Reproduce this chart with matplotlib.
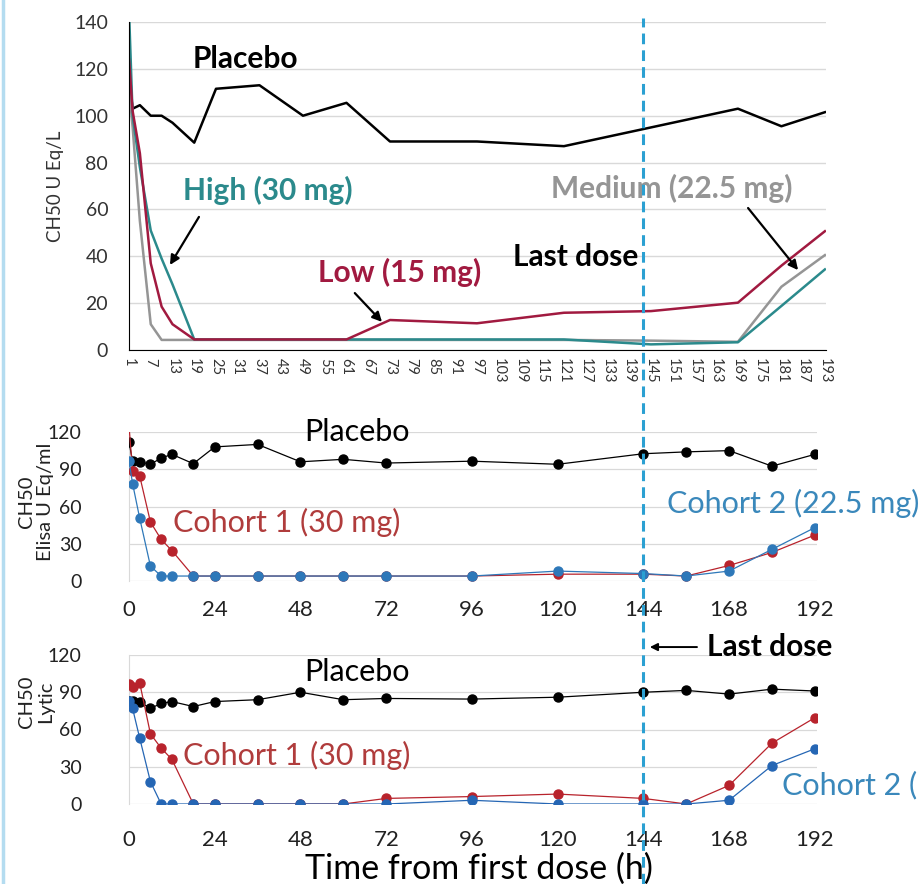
import numpy as np
import matplotlib
matplotlib.use('Agg')
import matplotlib.pyplot as plt
from matplotlib.lines import Line2D
from matplotlib import transforms

plt.rcParams['font.family'] = ['Lato', 'DejaVu Sans']

# top panel (category axis, hours from first dose)
top_hours = [0, 1, 3, 6, 9, 12, 18, 24, 36, 48, 60, 72, 96, 120, 144, 168, 180, 192]
top_placebo = [116, 103, 104.5, 100, 100, 97, 88.5, 111.5, 113, 100, 105.5, 89, 89, 87, 95, 103, 95.5, 101.5]
top_high = [145, 100, 78, 51, 39, 28, 4.5, 4.5, 4.5, 4.5, 4.5, 4.5, 4.5, 4.5, 2.4, 3.3, 18.8, 34.4]
top_medium = [112, 95, 55, 11, 4.3, 4.3, 4.3, 4.3, 4.3, 4.3, 4.3, 4.3, 4.3, 4.3, 4.0, 3.5, 27, 40.5]
top_low = [124, 102, 84, 37, 18.5, 11, 4.5, 4.5, 4.5, 4.5, 4.5, 12.8, 11.4, 15.9, 16.6, 20.2, 36, 50.7]

# middle / bottom panels
t_h = [0, 1, 3, 6, 9, 12, 18, 24, 36, 48, 60, 72, 96, 120, 144, 156, 168, 180, 192]
elisa_placebo = [112, 96.5, 96, 94, 99, 102, 94.5, 108, 110, 96, 98, 95, 96.5, 94, 102.5, 104, 105, 92.5, 102]
elisa_c1 = [125, 88.5, 84.5, 47.5, 33.5, 24.5, 4, 4, 4, 4, 4, 4, 4, 5.5, 5.5, 4, 12.5, 23, 37]
elisa_c2 = [96.5, 78.5, 50.5, 12, 4, 4, 4, 4, 4, 4, 4, 4, 4, 8, 6, 4, 8, 25.5, 43]
lytic_placebo = [83, 83, 82.5, 77, 81, 82.5, 78.5, 82.5, 84, 90, 84, 85, 84.5, 86, 90, 91.5, 88.5, 92.5, 91]
lytic_c1 = [97, 94, 97.5, 56.5, 45, 36, 0, 0, 0, 0, 0, 4.5, 6, 8, 4.5, 0, 15, 49, 69.5]
lytic_c2 = [83, 77, 53, 18, 0, 0, 0, 0, 0, 0, 0, 0, 3, 0, 0, 0, 3, 31, 44.5]

last_dose = 144

W, H = 918, 884
fig = plt.figure(figsize=(W / 100, H / 100), dpi=100)
fig.patch.set_facecolor('white')

def box(l, t, r, b):
    return [l / W, 1 - b / H, (r - l) / W, (b - t) / H]

ax1 = fig.add_axes(box(129, 22, 826, 350))
ax2 = fig.add_axes(box(129, 432, 817, 581))
ax3 = fig.add_axes(box(129, 655, 817, 804))

teal = '#2b8a8c'
crimson = '#a11a40'
grey = '#959595'
red = '#b8232c'
blue = '#2e78b9'
gridc = '#d9d9d9'

# ---- top panel
ax1.plot(top_hours, top_placebo, color='black', lw=1.8)
ax1.plot(top_hours, top_medium, color=grey, lw=1.8)
ax1.plot(top_hours, top_high, color=teal, lw=1.8)
ax1.plot(top_hours, top_low, color=crimson, lw=1.8)
ax1.set_xlim(0, 192.3)
ax1.set_ylim(0, 140)
ax1.set_yticks(range(0, 141, 20))
ax1.set_xticks(range(0, 193, 6))
ax1.set_xticklabels([str(h + 1) for h in range(0, 193, 6)], rotation=270, fontsize=10.5, color='#333333')
ax1.tick_params(axis='x', length=0, pad=6)
ax1.tick_params(axis='y', length=0, pad=15, labelsize=14, colors='#333333')
ax1.grid(axis='y', color=gridc, lw=1)
ax1.set_axisbelow(True)
for s in ['top', 'right']:
    ax1.spines[s].set_visible(False)
ax1.spines['left'].set_color('black')
ax1.spines['bottom'].set_color('black')

big = 21.5
ax1.text(32, 124, 'Placebo', fontsize=big, fontweight='bold', ha='center', va='center')
ax1.text(38.3, 68.3, 'High (30 mg)', fontsize=big, fontweight='bold', color=teal, ha='center', va='center')
ax1.text(74.8, 33.3, 'Low (15 mg)', fontsize=big, fontweight='bold', color=crimson, ha='center', va='center')
ax1.text(123.3, 39.7, 'Last dose', fontsize=big, fontweight='bold', ha='center', va='center')
ax1.text(149.8, 69.1, 'Medium (22.5 mg)', fontsize=big, fontweight='bold', color=grey, ha='center', va='center')
arrow = dict(arrowstyle='-|>', color='black', lw=1.6, mutation_scale=14, shrinkA=0, shrinkB=0)
ax1.annotate('', xy=(11.3, 36.3), xytext=(19.3, 56.8), arrowprops=arrow)
ax1.annotate('', xy=(69.8, 12), xytext=(62.3, 24.3), arrowprops=arrow)
ax1.annotate('', xy=(184.6, 34.1), xytext=(170.8, 60.6), arrowprops=arrow)

# ---- middle & bottom panels
def panel(ax, plac, c1, c2, c2col, xpad):
    ax.plot(t_h, plac, color='black', lw=0.9, marker='o', ms=6.5, zorder=3)
    ax.plot(t_h, c1, color=red, lw=0.9, marker='o', ms=6.5, zorder=4)
    ax.plot(t_h, c2, color=c2col, lw=0.9, marker='o', ms=6.5, zorder=5)
    ax.set_xlim(0, 192.6)
    ax.set_ylim(0, 120)
    ax.set_yticks(range(0, 121, 30))
    ax.set_xticks(range(0, 193, 24))
    ax.grid(axis='y', color=gridc, lw=0.9)
    ax.set_axisbelow(True)
    for s in ['top', 'right', 'bottom']:
        ax.spines[s].set_visible(False)
    ax.spines['left'].set_color(gridc)
    ax.tick_params(axis='x', length=0, pad=xpad, labelsize=16, colors='#222222')
    ax.tick_params(axis='y', length=0, pad=34, labelsize=14, colors='#222222')

panel(ax2, elisa_placebo, elisa_c1, elisa_c2, blue, 14)
panel(ax3, lytic_placebo, lytic_c1, lytic_c2, '#2566b4', 19)

mid = 22
ax2.text(63.8, 120, 'Placebo', fontsize=mid, ha='center', va='center')
ax2.text(44.2, 47.5, 'Cohort 1 (30 mg)', fontsize=mid, color='#b03c3c', ha='center', va='center')
ax2.text(150.5, 62.8, 'Cohort 2 (22.5 mg)', fontsize=mid, color='#3a88bb', ha='left', va='center')

ax3.text(63.8, 106.4, 'Placebo', fontsize=mid, ha='center', va='center')
ax3.text(47, 39.5, 'Cohort 1 (30 mg)', fontsize=mid, color='#b03c3c', ha='center', va='center')
ax3.text(182.8, 15.3, 'Cohort 2 (22.5 mg)', fontsize=mid, color='#3a88bb', ha='left', va='center', clip_on=False)
ax3.text(161.8, 126.4, 'Last dose', fontsize=big, fontweight='bold', ha='left', va='center')
ax3.annotate('', xy=(145.8, 126.4), xytext=(159, 126.4), annotation_clip=False,
             arrowprops=dict(arrowstyle='-|>', color='black', lw=1.4, mutation_scale=11, shrinkA=0, shrinkB=0))

# y labels and x label
fig.text(55 / W, 1 - 186 / H, 'CH50 U Eq/L', rotation=90, fontsize=13.5, ha='center', va='center', color='#333333')
fig.text(36 / W, 1 - 502 / H, 'CH50\nElisa U Eq/ml', rotation=90, fontsize=14.5, ha='center', va='center',
         linespacing=1.1, color='#222222')
fig.text(36 / W, 1 - 702 / H, 'CH50\nLytic', rotation=90, fontsize=14.5, ha='center', va='center',
         linespacing=1.1, color='#222222')
fig.text(479 / W, 1 - 869 / H, 'Time from first dose (h)', fontsize=24.5, ha='center', va='center')

# last dose dashed line across all panels
tr = transforms.blended_transform_factory(ax2.transData, fig.transFigure)
fig.add_artist(Line2D([last_dose, last_dose], [0, 1 - 18 / H], transform=tr, color='#2ba0d2',
                      lw=2.2, ls=(0, (3.5, 2)), zorder=10))

# light blue frame edge on the left
fig.add_artist(Line2D([3 / W, 3 / W], [0, 1], transform=fig.transFigure, color='#b4dcf0', lw=2.5))

fig.savefig('out.png', dpi=100)
